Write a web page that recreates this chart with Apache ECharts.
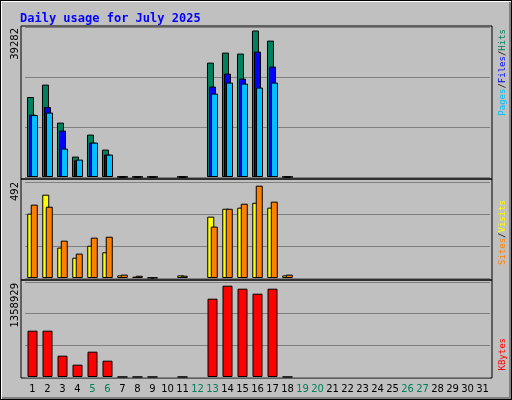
<!DOCTYPE html>
<html>
<head>
<meta charset="utf-8">
<script src="https://cdn.jsdelivr.net/npm/echarts@6/dist/echarts.min.js"></script>
<style>
    html, body { margin: 0; padding: 0; }
    #wrap {
        width: 510px; height: 398px;
        border: 1px solid #000;
        background: #c0c0c0;
        box-shadow: inset 1px 1px 0 #fff, inset -2px -2px 0 #808080;
    }
    #chart { width: 510px; height: 398px; }
</style>
</head>
<body>
<div id="wrap"><div id="chart"></div></div>
<script>
    // 7月每日数据
    var days = [];
    for (var d = 1; d <= 31; d++) days.push(String(d));
    var weekend = ['5', '6', '12', '13', '19', '20', '26', '27'];

    var hits  = [21450, 24770, 14580, 5470, 11370, 7350, 40, 40, 40, null, 40, null, 30670, 33350, 33090, 39282, 36570, 40, null, null, null, null, null, null, null, null, null, null, null, null, null];
    var files = [16730, 18770, 12440, 4480, 9220, 6000, 20, 20, 20, null, 20, null, 24240, 27720, 26380, 33620, 29600, 20, null, null, null, null, null, null, null, null, null, null, null, null, null];
    var pages = [16600, 17270, 7610, 4660, 9220, 6000, 20, 20, 20, null, 20, null, 22360, 25310, 25040, 23970, 25310, 20, null, null, null, null, null, null, null, null, null, null, null, null, null];
    var visits = [343, 444, 162, 108, 172, 137, 14, 7, 2, null, 14, null, 327, 369, 375, 401, 375, 14, null, null, null, null, null, null, null, null, null, null, null, null, null];
    var sites  = [391, 380, 199, 130, 215, 220, 18, 12, 2, null, 12, null, 274, 369, 396, 492, 407, 18, null, null, null, null, null, null, null, null, null, null, null, null, null];
    var kbytes = [689400, 689400, 317400, 183500, 376900, 243000, 1000, 1000, 1000, null, 1000, null, 1165500, 1358929, 1314300, 1239900, 1314300, 1000, null, null, null, null, null, null, null, null, null, null, null, null, null];

    var maxHits = 39282, maxSites = 492, maxKB = 1358929;

    var chart = echarts.init(document.getElementById('chart'));
    var mono = 'DejaVu Sans Mono';
    var grids = [
        {left: 24, width: 465, top: 26, height: 150},
        {left: 24, width: 465, top: 181, height: 96},
        {left: 24, width: 465, top: 281, height: 95}
    ];
    var tops = [maxHits * 150 / 146.5, maxSites * 96 / 92.3, maxKB * 95 / 91.3];

    function xAxis(i) {
        return {
            type: 'category', gridIndex: i,
            data: days.map(function (v) {
                return {value: v, textStyle: {color: weekend.indexOf(v) >= 0 ? '#00805c' : '#000'}};
            }),
            axisLine: {show: false}, axisTick: {show: false},
            axisLabel: {show: i === 2, fontFamily: 'DejaVu Sans', fontSize: 10, margin: 7, interval: 0}
        };
    }
    function yAxis(i) {
        return {
            type: 'value', gridIndex: i, min: 0, max: tops[i], interval: tops[i] / 3,
            axisLabel: {show: false}, axisLine: {show: false}, axisTick: {show: false},
            splitLine: {lineStyle: {color: '#808080', width: 1}}
        };
    }
    function bar(name, data, color, i, w, gap) {
        return {
            name: name, type: 'bar', data: data, xAxisIndex: i, yAxisIndex: i,
            barWidth: w, barGap: gap, animation: false,
            itemStyle: {color: color, borderColor: '#000', borderWidth: 1}
        };
    }
    function panel(y, h) {
        return {type: 'rect', shape: {x: 20, y: y, width: 471, height: h},
            style: {fill: null, stroke: '#000', lineWidth: 1}, z: 0};
    }
    function vlabel(text, y) {
        return {type: 'text', x: 9, y: y, rotation: Math.PI / 2,
            style: {text: text, font: '10px DejaVu Sans', fill: '#000', align: 'right', verticalAlign: 'top'}};
    }
    function legend(parts, y) {
        return {type: 'text', x: 497, y: y, rotation: Math.PI / 2,
            style: {text: parts, rich: rich, font: '9px ' + mono, align: 'right', verticalAlign: 'top'}};
    }
    var f9 = '9px ' + mono;
    var rich = {
        p: {fill: '#00c0ff', font: f9},
        f: {fill: '#0000ff', font: f9},
        h: {fill: '#00805c', font: f9},
        s: {fill: '#ff8000', font: f9},
        v: {fill: '#ffff00', font: f9},
        k: {fill: '#ff0000', font: f9},
        sl: {fill: '#000', font: f9}
    };

    chart.setOption({
        backgroundColor: 'transparent',
        title: {text: 'Daily usage for July 2025', left: 14, top: 7,
            textStyle: {color: '#0000ff', fontFamily: mono, fontWeight: 'bold', fontSize: 12}},
        grid: grids,
        xAxis: [xAxis(0), xAxis(1), xAxis(2)],
        yAxis: [yAxis(0), yAxis(1), yAxis(2)],
        series: [
            bar('Hits', hits, '#00805c', 0, 7, '-71%'),
            bar('Files', files, '#0000ff', 0, 7, '-71%'),
            bar('Pages', pages, '#00c0ff', 0, 7, '-71%'),
            bar('Visits', visits, '#ffff00', 1, 7, '-50%'),
            bar('Sites', sites, '#ff8000', 1, 7, '-50%'),
            bar('KBytes', kbytes, '#ff0000', 2, 10, '0%')
        ],
        graphic: [
            panel(25, 153), panel(178, 101), panel(279, 98),
            vlabel(String(maxHits), 27),
            vlabel(String(maxSites), 181),
            vlabel(String(maxKB), 282),
            legend('{p|Pages}{sl|/}{f|Files}{sl|/}{h|Hits}', 28),
            legend('{s|Sites}{sl|/}{v|Visits}', 199),
            legend('{k|KBytes}', 337)
        ]
    });
</script>
</body>
</html>
